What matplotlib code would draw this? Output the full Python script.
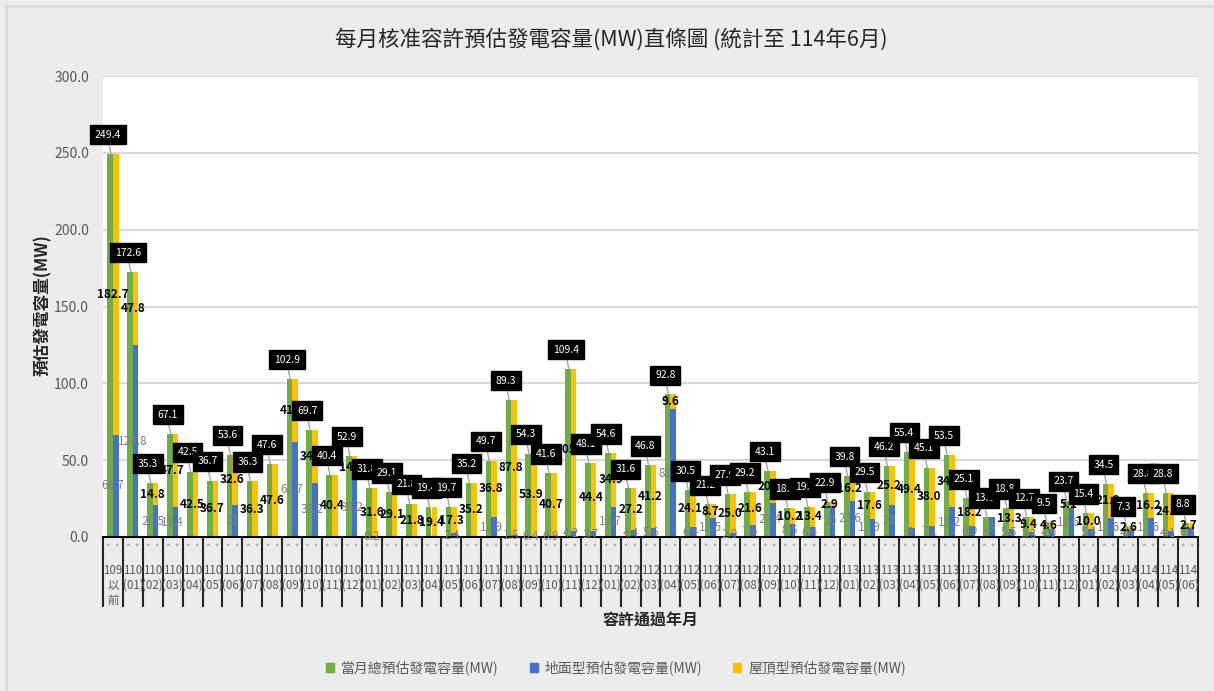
import numpy as np
import matplotlib
matplotlib.use('Agg')
import matplotlib.pyplot as plt
from matplotlib.patches import Patch, Rectangle

plt.rcParams['font.family'] = ['Noto Sans CJK TC', 'DejaVu Sans']

# 類別 (容許通過年月)
categories = ['109以前'] + [f'{y}({m:02d})' for y in (110, 111, 112, 113) for m in range(1, 13)] \
    + [f'114({m:02d})' for m in range(1, 7)]

# 當月總預估發電容量(MW)
total = [249.4, 172.6, 35.3, 67.1, 42.5, 36.7, 53.6, 36.3, 47.6, 102.9, 69.7, 40.4, 52.9,
         31.8, 29.1, 21.8, 19.4, 19.7, 35.2, 49.7, 89.3, 54.3, 41.6, 109.4, 48.1,
         54.6, 31.6, 46.8, 92.8, 30.5, 21.2, 27.9, 29.2, 43.1, 18.7, 19.8, 22.9,
         39.8, 29.5, 46.2, 55.4, 45.1, 53.5, 25.1, 13.0, 18.8, 12.7, 9.5, 23.7,
         15.4, 34.5, 7.3, 28.8, 28.8, 8.8]
# 地面型預估發電容量(MW)
ground = [66.7, 124.8, 20.5, 19.4, 0, 0, 21, 0, 0, 61.7, 35.2, 0, 38.2,
          0.2, 0, 0, 0, 2.4, 0, 12.9, 1.5, 0.4, 0.9, 4.2, 3.7,
          19.7, 4.4, 5.6, 83.2, 6.4, 12.5, 2.9, 7.6, 22.4, 8.5, 6.4, 20,
          23.6, 11.9, 21, 6, 7.1, 19.2, 6.9, 13, 5.5, 3.3, 4.9, 18.6,
          5.4, 12.6, 4.7, 12.6, 4.1, 6.1]
# 屋頂型預估發電容量(MW)
roof = [182.7, 47.8, 14.8, 47.7, 42.5, 36.7, 32.6, 36.3, 47.6, 41.2, 34.5, 40.4, 14.7,
        31.6, 29.1, 21.8, 19.4, 17.3, 35.2, 36.8, 87.8, 53.9, 40.7, 105.2, 44.4,
        34.9, 27.2, 41.2, 9.6, 24.1, 8.7, 25.0, 21.6, 20.7, 10.2, 13.4, 2.9,
        16.2, 17.6, 25.2, 49.4, 38.0, 34.3, 18.2, 0, 13.3, 9.4, 4.6, 5.1,
        10.0, 21.9, 2.6, 16.2, 24.7, 2.7]

GREEN, BLUE, YELLOW = '#70ad47', '#4472c4', '#ffc000'
GRAY_TXT = '#595959'

W, H = 1214, 691
fig = plt.figure(figsize=(W / 100, H / 100), dpi=100)
fig.patch.set_facecolor('#ececec')
fig.patches.append(Rectangle((6 / W, -0.1), 1.2, 1 - 6 / H + 0.1, transform=fig.transFigure,
                             facecolor='none', edgecolor='#d9d9d9', lw=2))

ax = fig.add_axes([103 / W, (H - 537) / H, (1198 - 103) / W, (537 - 76) / H])
ax.set_facecolor('white')

x = np.arange(len(categories))
bw = 0.28
ax.bar(x - bw / 2, total, bw, color=GREEN, zorder=2)
ax.bar(x + bw / 2, ground, bw, color=BLUE, zorder=2)
ax.bar(x + bw / 2, roof, bw, bottom=ground, color=YELLOW, zorder=2)

ax.set_xlim(-0.5, len(categories) - 0.5)
ax.set_ylim(0, 300)
ax.set_yticks(np.arange(0, 301, 50))
ax.set_yticklabels([f'{v:.1f}' for v in np.arange(0, 301, 50)], color=GRAY_TXT, fontsize=10)
ax.tick_params(axis='y', length=0, pad=10)
ax.set_xticks([])
ax.grid(axis='y', color='#d9d9d9', lw=1.5, zorder=0)
for s in ['left', 'right', 'top']:
    ax.spines[s].set_visible(False)
ax.spines['bottom'].set_color('black')
ax.spines['bottom'].set_linewidth(1.5)

# 資料標籤
for i in range(len(categories)):
    if ground[i] > 0:
        ax.text(i, ground[i] / 2, f'{ground[i]:g}', ha='center', va='center',
                fontsize=8.5, color='#808080', zorder=4)
    if roof[i] > 0:
        ax.text(i, ground[i] + roof[i] / 2, f'{roof[i]:.1f}', ha='center', va='center',
                fontsize=8.5, fontweight='bold', color='black', zorder=4)
    bx, by = i - 0.25, total[i] + 12.5
    ax.plot([bx, i - 0.1], [by - 3, total[i]], color='#a6a6a6', lw=1, zorder=3)
    ax.text(bx, by, f'{total[i]:.1f}', ha='center', va='center', fontsize=7.5,
            color='white', zorder=5,
            bbox=dict(boxstyle='square,pad=0.45', facecolor='black', edgecolor='black'))

# 類別表格
trans = ax.get_xaxis_transform()
axh = 537 - 76
ax.vlines(np.arange(len(categories) + 1) - 0.5, -(607 - 537) / axh, 0, transform=trans,
          color='#262626', lw=1.5, clip_on=False)
for i, c in enumerate(categories):
    ax.text(i, -(548 - 537) / axh, '*  *', transform=trans, ha='center', va='center',
            fontsize=7, color='#a6a6a6')
    if c == '109以前':
        lines = ['109', '以', '前']
    else:
        lines = [c[:3], c[3:]]
    for k, ln in enumerate(lines):
        ax.text(i, -(571 + 14.5 * k - 537) / axh, ln, transform=trans, ha='center',
                va='center', fontsize=8.3, color=GRAY_TXT)

fig.text(611 / W, 1 - 40 / H, '每月核准容許預估發電容量(MW)直條圖 (統計至 114年6月)',
         ha='center', va='center', fontsize=15.5, color='#262626')
fig.text(43 / W, 1 - 305 / H, '預估發電容量(MW)', rotation=90, ha='center', va='center',
         fontsize=12, fontweight='bold', color='#262626')
fig.text(651 / W, 1 - 621 / H, '容許通過年月', ha='center', va='center',
         fontsize=11.5, fontweight='bold', color='#262626')

handles = [Patch(color=GREEN, label='當月總預估發電容量(MW)'),
           Patch(color=BLUE, label='地面型預估發電容量(MW)'),
           Patch(color=YELLOW, label='屋頂型預估發電容量(MW)')]
fig.legend(handles=handles, loc='center', bbox_to_anchor=(616 / W, 1 - 668 / H), ncol=3,
           frameon=False, fontsize=10, handlelength=0.6, handleheight=0.6,
           columnspacing=2.2, handletextpad=0.5, labelcolor=GRAY_TXT)

fig.savefig('out.png', dpi=100, facecolor=fig.get_facecolor())
